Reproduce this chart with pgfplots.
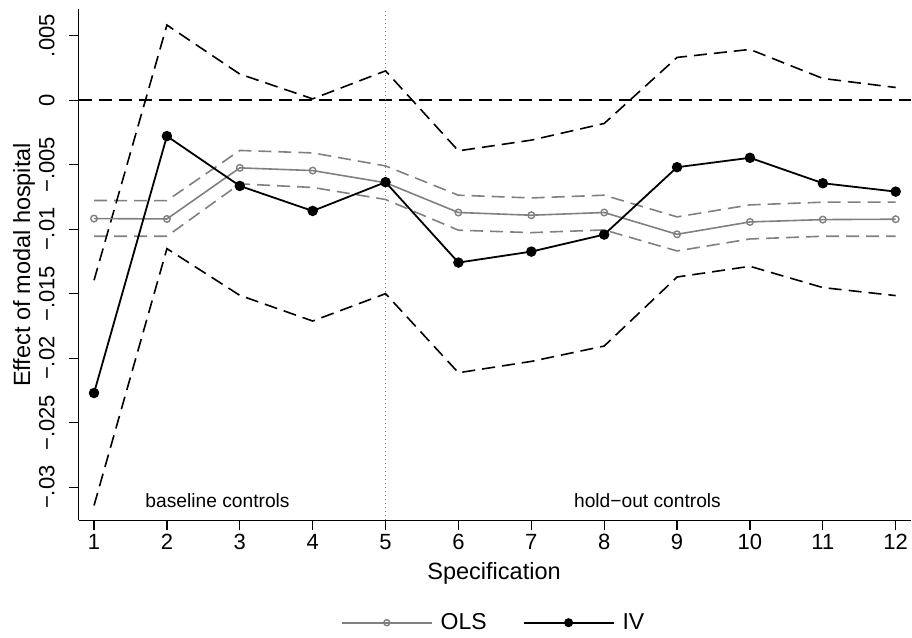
\documentclass[border=0pt]{standalone}
\usepackage{fontspec}
\setmainfont{Liberation Sans}
\usepackage{pgfplots}
\pgfplotsset{compat=1.18}
\definecolor{olsgray}{RGB}{128,128,128}
\begin{document}
\begin{tikzpicture}
\useasboundingbox (-78.7pt,-117pt) rectangle (833pt,520.3pt);
\begin{axis}[
  at={(0,0)}, anchor=south west,
  scale only axis, width=832pt, height=511pt,
  xmin=0.79, xmax=12.21, ymin=-0.03258, ymax=0.00704,
  axis x line*=bottom, axis y line*=left,
  axis line style={line width=1.2pt, -},
  tick align=outside, major tick length=10pt,
  tick style={line width=1.2pt, black},
  xtick={1,2,3,4,5,6,7,8,9,10,11,12},
  xticklabels={1,2,3,4,5,6,7,8,9,10,11,12},
  ytick={-0.03,-0.025,-0.02,-0.015,-0.01,-0.005,0,0.005},
  yticklabels={−.03,−.025,−.02,−.015,−.01,−.005,0,.005},
  scaled y ticks=false,
  ticklabel style={font=\fontsize{22}{26}\selectfont},
  yticklabel style={rotate=90, anchor=south, inner ysep=0pt, yshift=14pt},
  xlabel={Specification}, ylabel={Effect of modal hospital},
  label style={font=\fontsize{23.5}{28}\selectfont},
  xlabel style={at={(axis description cs:0.499,-0.1155)}, anchor=base},
  ylabel style={at={(axis description cs:-0.0657,0.5)}, anchor=center},
  legend columns=2,
  legend style={at={(axis description cs:0.4985,-0.2)}, anchor=center, draw=none, fill=none,
    font=\fontsize{23}{27}\selectfont,
    /tikz/every odd column/.append style={column sep=6pt},
    /tikz/every even column/.append style={column sep=34pt}},
  legend image code/.code={\draw[mark repeat=2,mark phase=2] plot coordinates {(0pt,0pt) (45pt,0pt) (90pt,0pt)};},
]
% reference lines
\addplot[black, line width=1.6pt, dash pattern=on 13pt off 7pt, forget plot] coordinates {(0.79,0) (12.21,0)};
\addplot[olsgray, line width=1.2pt, dash pattern=on 1.2pt off 2.8pt, forget plot] coordinates {(5,-0.03258) (5,0.00704)};
% OLS CI
\addplot[olsgray, line width=1.6pt, dash pattern=on 13pt off 7pt, forget plot] coordinates {
(1,-0.00778) (2,-0.00779) (3,-0.0039) (4,-0.00409) (5,-0.0051) (6,-0.00737)
(7,-0.00758) (8,-0.00737) (9,-0.00905) (10,-0.00812) (11,-0.00791) (12,-0.00791)};
\addplot[olsgray, line width=1.6pt, dash pattern=on 13pt off 7pt, forget plot] coordinates {
(1,-0.01055) (2,-0.01055) (3,-0.00649) (4,-0.00677) (5,-0.0077) (6,-0.01008)
(7,-0.01027) (8,-0.01006) (9,-0.01169) (10,-0.01076) (11,-0.01055) (12,-0.01055)};
% IV CI
\addplot[black, line width=1.6pt, dash pattern=on 13pt off 7pt, forget plot] coordinates {
(1,-0.01396) (2,0.00582) (3,0.00202) (4,0.0001) (5,0.00227) (6,-0.00393)
(7,-0.0031) (8,-0.00181) (9,0.00331) (10,0.00393) (11,0.00168) (12,0.00098)};
\addplot[black, line width=1.6pt, dash pattern=on 13pt off 7pt, forget plot] coordinates {
(1,-0.03142) (2,-0.01151) (3,-0.01513) (4,-0.01712) (5,-0.015) (6,-0.02113)
(7,-0.02025) (8,-0.01906) (9,-0.01371) (10,-0.01288) (11,-0.01453) (12,-0.01515)};
% OLS
\addplot[olsgray, line width=1.6pt, mark=o, mark size=3.3pt, mark options={solid, line width=1.4pt},
  legend image post style={mark size=3pt}] coordinates {
(1,-0.00918) (2,-0.00921) (3,-0.00525) (4,-0.00546) (5,-0.0064) (6,-0.00871)
(7,-0.00892) (8,-0.00871) (9,-0.0104) (10,-0.00944) (11,-0.00926) (12,-0.00923)};
\addlegendentry{OLS}
% IV
\addplot[black, line width=1.8pt, mark=*, mark size=4.3pt, mark options={solid},
  legend image post style={mark size=3.6pt}] coordinates {
(1,-0.0227) (2,-0.00279) (3,-0.00665) (4,-0.00859) (5,-0.00636) (6,-0.01259)
(7,-0.01174) (8,-0.01042) (9,-0.0052) (10,-0.00447) (11,-0.00644) (12,-0.00709)};
\addlegendentry{IV}
\node[anchor=base, font=\fontsize{19.2}{23}\selectfont] at (axis cs:2.695,-0.0316) {baseline controls};
\node[anchor=base, font=\fontsize{19.2}{23}\selectfont] at (axis cs:8.594,-0.0316) {hold−out controls};
\end{axis}
\end{tikzpicture}
\end{document}
